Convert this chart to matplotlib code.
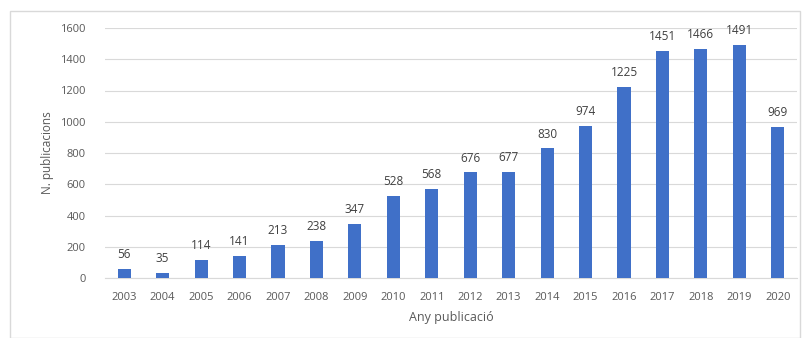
import matplotlib.pyplot as plt
from matplotlib.patches import Rectangle

years = [str(y) for y in range(2003, 2021)]
counts = [56, 35, 114, 141, 213, 238, 347, 528, 568, 676, 677, 830, 974, 1225, 1451, 1466, 1491, 969]

plt.rcParams['font.family'] = ['Open Sans', 'DejaVu Sans']

fig = plt.figure(figsize=(8.02, 3.38), dpi=100)
fig.patches.append(Rectangle((10 / 802, 0), 790 / 802, 1 - 11 / 338, transform=fig.transFigure,
                             fill=False, edgecolor='#d9d9d9', linewidth=1))
ax = fig.add_axes([105 / 802, 1 - 278 / 338, 692 / 802, 250 / 338])

x = range(len(years))
bars = ax.bar(x, counts, width=0.34, color='#4070C8', zorder=3)
for xi, v in zip(x, counts):
    ax.text(xi, v + 50, str(v), ha='center', va='bottom', fontsize=8.5, color='#404040')

ax.set_xlim(-0.5, len(years) - 0.5)
ax.set_ylim(0, 1600)
ax.set_yticks(range(0, 1601, 200))
ax.set_xticks(list(x))
ax.set_xticklabels(years)
ax.tick_params(axis='both', length=0, labelsize=8, labelcolor='#595959')
ax.tick_params(axis='y', pad=14)
ax.tick_params(axis='x', pad=10)
ax.grid(axis='y', color='#d9d9d9', linewidth=0.8, zorder=0)
for s in ['top', 'right', 'left']:
    ax.spines[s].set_visible(False)
ax.spines['bottom'].set_color('#d9d9d9')

ax.set_ylabel('N. publicacions', fontsize=8.5, color='#595959')
ax.yaxis.set_label_coords(-0.073, 0.5)
ax.set_xlabel('Any publicació', fontsize=9, color='#595959', labelpad=6)

fig.savefig('out.png', dpi=100)
